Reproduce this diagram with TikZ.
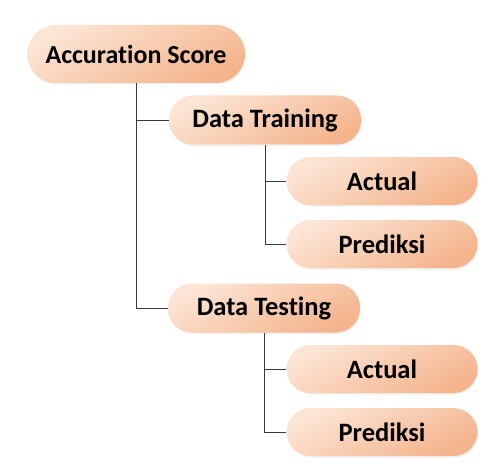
\documentclass[tikz,border=0pt]{standalone}
\usepackage{fontspec}
\setmainfont{Carlito}[Ligatures=NoCommon]
\usepackage{tikz}
\usetikzlibrary{shapes,positioning,calc,shadows}

\definecolor{peachlight}{HTML}{FCE5D5}
\definecolor{peachdark}{HTML}{F4B48C}
\definecolor{linkgray}{HTML}{3A3A3A}

\begin{document}
\begin{tikzpicture}[
    x=1pt, y=-1pt,
    font=\bfseries,
    pill/.style={rounded corners=24pt, minimum height=49pt, minimum width=192pt, inner sep=0pt,
        top color=peachlight, bottom color=peachdark, shading angle=28,
        drop shadow={opacity=0.12, shadow xshift=1pt, shadow yshift=-1.5pt}},
    rootpill/.style={pill, rounded corners=29pt, minimum height=58pt, minimum width=218pt, font=\bfseries\fontsize{26}{31}\selectfont},
    midpill/.style={pill, font=\bfseries\fontsize{26.5}{31}\selectfont},
    leafpill/.style={pill, minimum width=191pt, minimum height=48pt, font=\bfseries\fontsize{26.5}{31}\selectfont},
    link/.style={draw=linkgray, line width=0.9pt}
]
    \useasboundingbox (0,0) rectangle (489,473);

    \node[rootpill] (root) at (136,54) {Accuration Score};
    \node[midpill] (train) at (265,120) {Data Training};
    \node[leafpill] (trainact) at (382,181) {Actual};
    \node[leafpill] (trainpred) at (382,244) {Prediksi};
    \node[midpill] (test) at (264,308) {Data Testing};
    \node[leafpill] (testact) at (382,369) {Actual};
    \node[leafpill] (testpred) at (382,432) {Prediksi};

    \draw[link] (root.south) |- (train.west);
    \draw[link] (root.south) |- (test.west);
    \draw[link] (train.south) |- (trainact.west);
    \draw[link] (train.south) |- (trainpred.west);
    \draw[link] (test.south) |- (testact.west);
    \draw[link] (test.south) |- (testpred.west);
\end{tikzpicture}
\end{document}
